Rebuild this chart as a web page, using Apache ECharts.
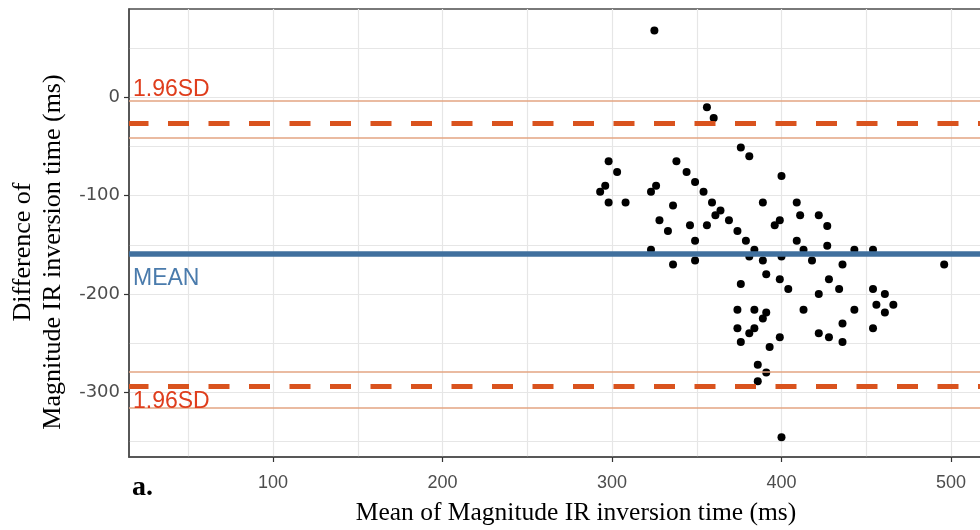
<!DOCTYPE html>
<html>
<head>
<meta charset="utf-8">
<script src="https://cdn.jsdelivr.net/npm/echarts@6/dist/echarts.min.js"></script>
<style>
html, body { margin: 0; padding: 0; background: #fff; }
#chart { width: 980px; height: 530px; }
</style>
</head>
<body>
<div id="chart"></div>
<script>
// Bland-Altman plot: mean vs difference of magnitude IR inversion time (ms)
var meanTime = [325, 356, 360, 376, 381, 298, 338, 303, 344, 400, 349, 296, 293, 326, 323, 354,
  298, 308, 389, 409, 359, 336, 364, 361, 411, 422, 369, 328, 399, 396, 346, 356, 427, 333, 374,
  379, 349, 409, 427, 323, 384, 413, 443, 454, 381, 389, 400, 349, 418, 336, 436, 496, 391, 399,
  428, 376, 404, 434, 454, 422, 461, 456, 466, 374, 384, 413, 443, 391, 461, 389, 436, 374, 384,
  381, 454, 422, 399, 428, 376, 436, 393, 386, 391, 386, 400];
var diffTime = [68, -10, -21, -51, -60, -65, -65, -76, -76, -80, -86, -90, -96, -90, -96, -96,
  -107, -107, -107, -107, -107, -110, -115, -120, -120, -120, -125, -125, -125, -130, -130, -130, -131, -136, -136,
  -146, -146, -146, -151, -155, -155, -155, -155, -155, -162, -166, -162, -166, -166, -170, -170, -170, -180, -185,
  -185, -190, -195, -195, -195, -200, -200, -211, -211, -216, -216, -216, -216, -219, -219, -225, -230, -235, -235,
  -240, -235, -240, -244, -244, -249, -249, -254, -272, -280, -289, -346];

var meanDiff = -159;
var upperLoA = -26;
var lowerLoA = -294;
var upperCI = [-3.5, -41.5];
var lowerCI = [-279, -316];

var xTicks = [100, 200, 300, 400, 500];
var yTicks = [0, -100, -200, -300];
var xGrid = [50, 100, 150, 200, 250, 300, 350, 400, 450, 500];
var yGrid = [50, 0, -50, -100, -150, -200, -250, -300, -350];

var points = meanTime.map(function (m, i) { return [m, diffTime[i]]; });

var thin = { color: '#e3a582', width: 1.5, type: 'solid' };
var dashed = { color: '#d9531e', width: 5, type: [21, 19.5], dashOffset: 1.5 };
var sdLabel = { fontFamily: 'Liberation Sans', fontSize: 23, color: '#df3d1c' };

var chart = echarts.init(document.getElementById('chart'), null, { renderer: 'canvas' });

var option = {
  animation: false,
  backgroundColor: '#fff',
  grid: {
    left: 129, top: 9, width: 894, height: 448,
    outerBoundsMode: 'none',
    show: true, borderColor: '#4d4d4d', borderWidth: 1.5, backgroundColor: 'transparent'
  },
  xAxis: [{
    type: 'value', min: 15, max: 542.5,
    axisLine: { show: true, onZero: false, lineStyle: { color: '#4d4d4d', width: 1.5 } },
    axisTick: { show: true, length: 5, customValues: xTicks, lineStyle: { color: '#333', width: 1.2 } },
    axisLabel: { customValues: xTicks, margin: 17, fontSize: 18, color: '#4d4d4d', fontFamily: 'Liberation Sans' },
    splitLine: { show: false },
    name: 'Mean of Magnitude IR inversion time (ms)',
    nameLocation: 'middle', nameGap: 41,
    nameTextStyle: { fontFamily: 'Liberation Serif', fontSize: 25.5, color: '#000', lineHeight: 30 }
  }, {
    type: 'value', min: 15, max: 542.5,
    axisLine: { show: false, onZero: false },
    axisTick: { show: false, customValues: xGrid },
    axisLabel: { show: false },
    splitLine: { show: true, lineStyle: { color: '#e6e6e6', width: 1.2 } }
  }],
  yAxis: [{
    type: 'value', min: -366, max: 90,
    axisLine: { show: true, onZero: false, lineStyle: { color: '#4d4d4d', width: 1.5 } },
    axisTick: { show: true, length: 5, customValues: yTicks, lineStyle: { color: '#333', width: 1.2 } },
    axisLabel: { customValues: yTicks, margin: 9, fontSize: 18, color: '#4d4d4d', fontFamily: 'DejaVu Sans' },
    splitLine: { show: false },
    name: 'Difference of\nMagnitude IR inversion time (ms)',
    nameLocation: 'middle', nameGap: 55,
    nameTextStyle: { fontFamily: 'Liberation Serif', fontSize: 26, color: '#000', lineHeight: 30, padding: [0, 38, 0, 0] }
  }, {
    type: 'value', min: -366, max: 90,
    axisLine: { show: false, onZero: false },
    axisTick: { show: false, customValues: yGrid },
    axisLabel: { show: false },
    splitLine: { show: true, lineStyle: { color: '#e6e6e6', width: 1.2 } }
  }],
  graphic: [{
    type: 'text', x: 132, y: 502,
    style: { text: 'a.', fontFamily: 'Liberation Serif', fontSize: 28, fontWeight: 'bold', fill: '#000', verticalAlign: 'bottom' }
  }],
  series: [{
    type: 'scatter',
    xAxisIndex: 0, yAxisIndex: 0,
    data: points,
    symbolSize: 8,
    itemStyle: { color: '#000', opacity: 1 },
    z: 2
  }, {
    type: 'line',
    xAxisIndex: 0, yAxisIndex: 0,
    data: [],
    z: 3,
    markLine: {
      silent: true,
      symbol: 'none',
      animation: false,
      label: { show: false },
      emphasis: { disabled: true },
      data: [
        { yAxis: upperCI[0], lineStyle: thin,
          label: Object.assign({ show: true, formatter: '1.96SD', position: 'insideStartTop', distance: [4, 0] }, sdLabel) },
        { yAxis: upperCI[1], lineStyle: thin },
        { yAxis: upperLoA, lineStyle: dashed },
        { yAxis: meanDiff, lineStyle: { color: '#40709e', width: 5.5, type: 'solid' },
          label: { show: true, formatter: 'MEAN', position: 'insideStartBottom', distance: [4, 14],
            fontFamily: 'Liberation Sans', fontSize: 23, color: '#4a7bac' } },
        { yAxis: lowerCI[0], lineStyle: thin },
        { yAxis: lowerLoA, lineStyle: dashed,
          label: Object.assign({ show: true, formatter: '1.96SD', position: 'insideStartBottom', distance: [4, 4] }, sdLabel) },
        { yAxis: lowerCI[1], lineStyle: thin }
      ]
    }
  }]
};

chart.setOption(option);
</script>
</body>
</html>
